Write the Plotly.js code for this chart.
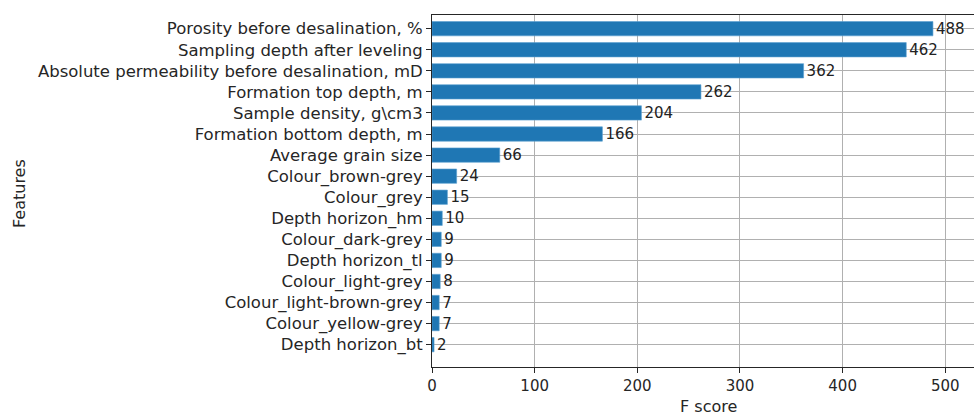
<!DOCTYPE html>
<html><head><meta charset="utf-8">
<script src="https://cdn.plot.ly/plotly-3.0.1.min.js"></script>
<style>html,body{margin:0;padding:0;overflow:hidden;background:#fff}</style>
</head><body>
<div id="chart" style="width:974px;height:417px"></div>
<script>
const features = [
  "Depth horizon_bt",
  "Colour_yellow-grey",
  "Colour_light-brown-grey",
  "Colour_light-grey",
  "Depth horizon_tl",
  "Colour_dark-grey",
  "Depth horizon_hm",
  "Colour_grey",
  "Colour_brown-grey",
  "Average grain size",
  "Formation bottom depth, m",
  "Sample density, g\\cm3",
  "Formation top depth, m",
  "Absolute permeability before desalination, mD",
  "Sampling depth after leveling",
  "Porosity before desalination, %"
];
const fscores = [2, 7, 7, 8, 9, 9, 10, 15, 24, 66, 166, 204, 262, 362, 462, 488];
const xTicks = [0, 100, 200, 300, 400, 500];

const fam = "DejaVu Sans, sans-serif";
const ink = "#262626";
const xRange = [0, 528];
const yRange = [-1.06, 15.65];

Plotly.newPlot("chart", [{
  type: "bar",
  orientation: "h",
  y: features,
  x: fscores,
  marker: {color: "#1f77b4", line: {color: "#5a9fd0", width: 0.6}},
  text: fscores.map(String),
  textposition: "outside",
  constraintext: "none",
  cliponaxis: false,
  textfont: {family: fam, size: 15, color: "#222"},
  hoverinfo: "x+y"
}, {
  // invisible companion trace so the overlay grid (drawn above the bars) renders
  type: "scatter",
  mode: "markers",
  x: fscores,
  y: features,
  xaxis: "x2",
  yaxis: "y2",
  marker: {opacity: 0},
  hoverinfo: "skip"
}], {
  width: 974, height: 417,
  margin: {l: 432, r: 0, t: 15, b: 50, pad: 0},
  paper_bgcolor: "#fff", plot_bgcolor: "#fff",
  font: {family: fam, size: 15, color: ink},
  bargap: 0.32,
  showlegend: false,
  xaxis: {
    range: xRange,
    tickvals: xTicks,
    ticktext: xTicks.map(String),
    showgrid: false,
    zeroline: false,
    showline: true, linecolor: ink, linewidth: 1, mirror: true,
    ticks: "outside", ticklen: 5, tickcolor: ink,
    tickfont: {family: fam, size: 15, color: ink},
    layer: "above traces"
  },
  yaxis: {
    type: "category",
    categoryarray: features,
    range: yRange,
    showgrid: false,
    zeroline: false,
    showline: true, linecolor: ink, linewidth: 1,
    ticks: "outside", ticklen: 5, tickcolor: ink,
    tickfont: {family: fam, size: 16.5, color: ink},
    automargin: false,
    layer: "above traces"
  },
  xaxis2: {
    overlaying: "x",
    range: xRange,
    tickvals: xTicks,
    showticklabels: false,
    ticks: "",
    showgrid: true, gridcolor: "#b0b0b0", gridwidth: 1,
    zeroline: false, showline: false
  },
  yaxis2: {
    overlaying: "y",
    type: "category",
    categoryarray: features,
    range: yRange,
    showticklabels: false,
    ticks: "",
    showgrid: true, gridcolor: "#b0b0b0", gridwidth: 1,
    zeroline: false, showline: false,
    automargin: false
  },
  annotations: [
    {text: "F score", xref: "paper", yref: "paper", x: (708 - 432) / 542, y: -0.1128, yanchor: "middle", xanchor: "center", showarrow: false, font: {family: fam, size: 16, color: ink}},
    {text: "Features", xref: "paper", yref: "paper", x: 0, xshift: -413, y: (367 - 194) / 352, textangle: -90, xanchor: "center", yanchor: "middle", showarrow: false, font: {family: fam, size: 16, color: ink}}
  ]
}, {displayModeBar: false, staticPlot: true});
</script>
</body></html>
